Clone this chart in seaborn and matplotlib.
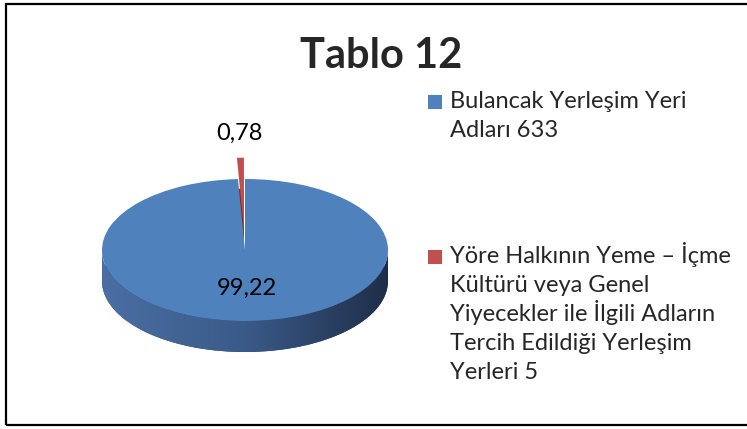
import matplotlib.pyplot as plt
import numpy as np
import seaborn as sns
from matplotlib.colors import LinearSegmentedColormap
from matplotlib.patches import Polygon, Rectangle

sns.set_theme(style="white")
plt.rcParams["font.family"] = ["Lato", "DejaVu Sans"]

# data
labels = [
    ["Bulancak Yerleşim Yeri", "Adları 633"],
    ["Yöre Halkının Yeme – İçme", "Kültürü veya Genel",
     "Yiyecekler ile İlgili Adların", "Tercih Edildiği Yerleşim", "Yerleri 5"],
]
counts = [633, 5]
top_colors = ["#4F81BD", "#C0504D"]
side_colors = ["#2C4465", "#7A2E2C"]
explode = [0, 0.3]

W, H = 747, 429
fig = plt.figure(figsize=(W / 100, H / 100), dpi=100)

# pie axes spans the figure; 1 data unit = 143 px wide, 71 px tall
cx, cy, rx, ry = 245, 250, 143, 71
depth = 31 / ry
ax = fig.add_axes([0, 0, 1, 1])

# bottom (side) of the cylinder
ax.pie(counts, colors=side_colors, startangle=90, counterclock=False,
       explode=explode, center=(0, -depth), radius=1,
       wedgeprops=dict(linewidth=0, zorder=1))

t = np.linspace(np.pi, 2 * np.pi, 200)
side = np.vstack([np.c_[np.cos(t), np.sin(t)],
                  np.c_[np.cos(t[::-1]), np.sin(t[::-1]) - depth]])
poly = Polygon(side, closed=True, facecolor="none", edgecolor="none")
ax.add_patch(poly)
cmap = LinearSegmentedColormap.from_list("side", ["#4A6FA3", "#3A5A88", "#1F2E48"])
grad = np.linspace(0, 1, 256).reshape(1, -1)
im = ax.imshow(grad, extent=(-1, 1, -1 - depth, 0.1), aspect="auto",
               cmap=cmap, zorder=2)
im.set_clip_path(poly)

# top surface
wedges, _ = ax.pie(counts, colors=top_colors, startangle=90, counterclock=False,
                   explode=explode, radius=1,
                   wedgeprops=dict(linewidth=0, zorder=3))

total = sum(counts)
label_dist = [0.535, 1.35]
for w, c, ex, d in zip(wedges, counts, explode, label_dist):
    pct = f"{100 * c / total:.2f}".replace(".", ",")
    ang = np.deg2rad((w.theta1 + w.theta2) / 2)
    r = ex + d
    ax.text(r * np.cos(ang), r * np.sin(ang), pct, ha="center", va="center",
            fontsize=17, color="black", zorder=5)

ax.set_xlim(-cx / rx, (W - cx) / rx)
ax.set_ylim(-(H - cy) / ry, cy / ry)
ax.set_aspect("auto")
ax.axis("off")

fig.text(381 / W, 1 - 56 / H, "Tablo 12", ha="center", va="center",
         fontsize=30, fontweight="bold")

# legend: square marker on the first line, then wrapped label lines
baselines = [108, 263]
line_h = 29
for lines, col, yb in zip(labels, top_colors, baselines):
    fig.add_artist(Rectangle((428 / W, 1 - (yb + 1) / H), 14 / W, 14 / H,
                             transform=fig.transFigure, facecolor=col,
                             edgecolor="none"))
    for i, line in enumerate(lines):
        fig.text(450 / W, 1 - (yb + i * line_h) / H, line, ha="left",
                 va="baseline", fontsize=17)

fig.add_artist(Rectangle((6 / W, 4 / H), 1.1, 421 / H, transform=fig.transFigure,
                         fill=False, edgecolor="black", linewidth=1.6))

fig.savefig("out.png", dpi=100)
